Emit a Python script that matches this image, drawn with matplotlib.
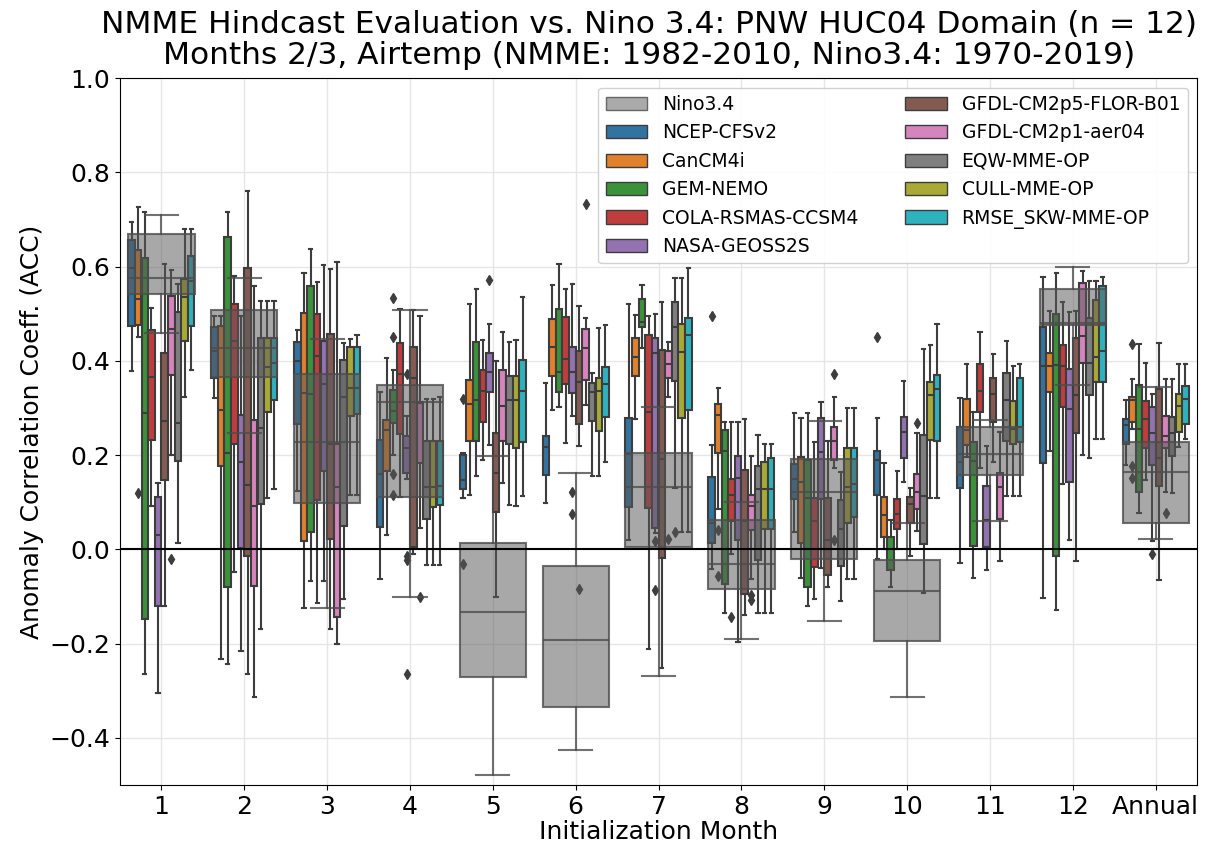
"""
NMME hindcast ACC vs Nino3.4, PNW HUC04 domain: grouped boxplots per init month
"""
import matplotlib
matplotlib.use("Agg")
import matplotlib.pyplot as plt
from matplotlib.patches import Patch

MONTHS = ["1", "2", "3", "4", "5", "6", "7", "8", "9", "10", "11", "12", "Annual"]

# each entry: (whislo, q1, med, q3, whishi) per month, last one = Annual
NINO = [
    (0.459, 0.543, 0.577, 0.669, 0.709), (0.248, 0.366, 0.428, 0.508, 0.577),
    (-0.125, 0.099, 0.227, 0.372, 0.446), (-0.100, 0.112, 0.312, 0.349, 0.509),
    (-0.479, -0.270, -0.132, 0.013, 0.199), (-0.426, -0.335, -0.192, -0.035, 0.163),
    (-0.268, 0.005, 0.132, 0.204, 0.302), (-0.191, -0.085, -0.030, 0.062, 0.101),
    (-0.151, -0.021, 0.121, 0.192, 0.273), (-0.314, -0.194, -0.088, -0.022, 0.056),
    (0.061, 0.158, 0.203, 0.259, 0.275), (0.349, 0.477, 0.481, 0.552, 0.600),
    (0.022, 0.056, 0.165, 0.227, 0.344),
]
NCEP = [
    (0.379, 0.474, 0.597, 0.656, 0.694), (0.322, 0.363, 0.421, 0.472, 0.496),
    (0.123, 0.266, 0.400, 0.441, 0.465), (-0.063, 0.048, 0.161, 0.232, 0.333),
    (0.110, 0.128, 0.148, 0.201, 0.204), (0.098, 0.157, 0.218, 0.241, 0.353),
    (0.019, 0.089, 0.202, 0.278, 0.521), (-0.042, 0.013, 0.057, 0.153, 0.221),
    (0.036, 0.107, 0.150, 0.182, 0.289), (-0.021, 0.116, 0.190, 0.208, 0.279),
    (-0.029, 0.131, 0.185, 0.259, 0.322), (-0.104, 0.184, 0.390, 0.473, 0.579),
    (0.180, 0.223, 0.264, 0.276, 0.317),
]
CANCM4I = [
    (0.451, 0.476, 0.531, 0.635, 0.726), (-0.232, 0.178, 0.296, 0.474, 0.496),
    (-0.125, 0.018, 0.332, 0.501, 0.586), (0.031, 0.167, 0.254, 0.275, 0.407),
    (0.116, 0.230, 0.309, 0.360, 0.521), (0.296, 0.367, 0.429, 0.489, 0.562),
    (0.276, 0.369, 0.408, 0.448, 0.498), (0.086, 0.204, 0.286, 0.308, 0.343),
    (-0.061, 0.013, 0.143, 0.197, 0.279), (0.000, 0.027, 0.073, 0.111, 0.184),
    (0.197, 0.222, 0.254, 0.319, 0.393), (0.208, 0.333, 0.390, 0.417, 0.506),
    (0.255, 0.270, 0.317, 0.324, 0.361),
]
GEM_NEMO = [
    (-0.265, -0.148, 0.290, 0.618, 0.717), (-0.244, -0.080, 0.204, 0.662, 0.717),
    (-0.067, 0.036, 0.330, 0.559, 0.638), (0.200, 0.269, 0.293, 0.339, 0.380),
    (0.156, 0.229, 0.317, 0.441, 0.552), (0.302, 0.333, 0.376, 0.511, 0.606),
    (0.427, 0.473, 0.482, 0.532, 0.561), (-0.136, -0.074, 0.208, 0.253, 0.270),
    (-0.121, -0.079, 0.110, 0.190, 0.289), (-0.079, -0.044, 0.000, 0.027, 0.063),
    (-0.061, 0.008, 0.188, 0.227, 0.291), (-0.128, -0.014, 0.392, 0.499, 0.586),
    (0.077, 0.121, 0.255, 0.349, 0.436),
]
COLA = [
    (0.092, 0.233, 0.366, 0.465, 0.512), (-0.047, 0.223, 0.443, 0.521, 0.580),
    (-0.114, 0.104, 0.411, 0.499, 0.567), (0.112, 0.244, 0.372, 0.439, 0.510),
    (0.189, 0.270, 0.337, 0.381, 0.445), (0.225, 0.351, 0.404, 0.494, 0.553),
    (-0.211, 0.088, 0.292, 0.455, 0.496), (-0.010, 0.060, 0.115, 0.149, 0.271),
    (-0.106, -0.037, 0.061, 0.109, 0.227), (0.000, 0.043, 0.075, 0.107, 0.167),
    (0.172, 0.291, 0.337, 0.394, 0.461), (0.139, 0.303, 0.390, 0.433, 0.526),
    (0.148, 0.215, 0.277, 0.314, 0.395),
]
NASA = [
    (-0.305, -0.121, 0.030, 0.112, 0.140), (-0.216, 0.002, 0.186, 0.286, 0.495),
    (-0.068, 0.167, 0.351, 0.443, 0.604), (0.150, 0.162, 0.216, 0.240, 0.283),
    (0.222, 0.335, 0.376, 0.417, 0.478), (0.284, 0.332, 0.376, 0.429, 0.563),
    (0.035, 0.045, 0.416, 0.449, 0.500), (-0.197, 0.019, 0.152, 0.198, 0.270),
    (-0.040, 0.107, 0.206, 0.279, 0.312), (0.144, 0.195, 0.250, 0.280, 0.358),
    (-0.044, 0.006, 0.063, 0.135, 0.220), (0.019, 0.144, 0.298, 0.383, 0.503),
    (0.017, 0.179, 0.248, 0.302, 0.330),
]
FLOR = [
    (-0.121, 0.148, 0.273, 0.417, 0.605), (-0.264, -0.015, 0.137, 0.597, 0.760),
    (-0.169, 0.022, 0.223, 0.457, 0.595), (-0.010, 0.004, 0.364, 0.429, 0.509),
    (-0.100, 0.079, 0.162, 0.248, 0.400), (0.220, 0.266, 0.355, 0.422, 0.516),
    (-0.252, -0.018, 0.192, 0.424, 0.524), (-0.140, -0.095, 0.060, 0.168, 0.276),
    (-0.079, -0.054, 0.020, 0.110, 0.229), (-0.015, 0.057, 0.097, 0.112, 0.130),
    (0.186, 0.271, 0.330, 0.363, 0.414), (-0.024, 0.248, 0.328, 0.448, 0.505),
    (-0.065, 0.135, 0.194, 0.340, 0.439),
]
AER04 = [
    (0.201, 0.370, 0.467, 0.537, 0.592), (-0.314, -0.077, 0.093, 0.274, 0.559),
    (-0.201, -0.144, 0.133, 0.223, 0.610), (0.045, 0.183, 0.310, 0.312, 0.496),
    (0.141, 0.231, 0.304, 0.380, 0.461), (0.307, 0.360, 0.427, 0.468, 0.491),
    (0.323, 0.363, 0.394, 0.422, 0.441), (-0.062, 0.042, 0.092, 0.115, 0.199),
    (0.172, 0.189, 0.229, 0.259, 0.324), (0.038, 0.086, 0.121, 0.160, 0.247),
    (-0.024, 0.064, 0.133, 0.162, 0.250), (0.201, 0.395, 0.452, 0.565, 0.591),
    (0.121, 0.215, 0.240, 0.283, 0.362),
]
EQW = [
    (0.013, 0.188, 0.269, 0.504, 0.563), (-0.169, 0.097, 0.258, 0.449, 0.527),
    (-0.106, 0.050, 0.324, 0.402, 0.439), (-0.033, 0.065, 0.133, 0.230, 0.319),
    (0.094, 0.224, 0.316, 0.367, 0.441), (0.155, 0.273, 0.334, 0.354, 0.375),
    (0.131, 0.357, 0.471, 0.526, 0.576), (-0.136, -0.022, 0.129, 0.178, 0.243),
    (-0.109, -0.035, 0.043, 0.104, 0.165), (-0.092, 0.011, 0.113, 0.243, 0.425),
    (0.114, 0.230, 0.317, 0.374, 0.443), (0.195, 0.328, 0.395, 0.492, 0.569),
    (0.120, 0.198, 0.248, 0.280, 0.361),
]
CULL = [
    (0.324, 0.443, 0.535, 0.574, 0.681), (0.110, 0.292, 0.387, 0.449, 0.527),
    (0.116, 0.283, 0.343, 0.429, 0.446), (-0.033, 0.089, 0.133, 0.230, 0.319),
    (0.092, 0.215, 0.316, 0.367, 0.445), (0.155, 0.252, 0.337, 0.364, 0.470),
    (0.037, 0.278, 0.418, 0.479, 0.576), (-0.136, 0.044, 0.129, 0.186, 0.223),
    (-0.063, 0.056, 0.132, 0.215, 0.300), (0.109, 0.232, 0.327, 0.356, 0.434),
    (0.114, 0.224, 0.255, 0.314, 0.390), (0.235, 0.356, 0.408, 0.530, 0.569),
    (0.218, 0.250, 0.305, 0.330, 0.393),
]
RMSE_SKW = [
    (0.381, 0.474, 0.570, 0.622, 0.681), (0.128, 0.317, 0.396, 0.449, 0.528),
    (0.116, 0.287, 0.343, 0.429, 0.455), (-0.033, 0.094, 0.135, 0.230, 0.324),
    (0.114, 0.228, 0.337, 0.402, 0.535), (0.186, 0.280, 0.351, 0.388, 0.477),
    (0.037, 0.296, 0.454, 0.492, 0.597), (-0.136, 0.044, 0.129, 0.193, 0.224),
    (-0.063, 0.068, 0.139, 0.216, 0.300), (0.109, 0.231, 0.340, 0.370, 0.479),
    (0.114, 0.227, 0.259, 0.363, 0.394), (0.234, 0.356, 0.420, 0.560, 0.579),
    (0.234, 0.266, 0.319, 0.346, 0.393),
]

# outliers: {month index: [values]}
FLIERS = {
    "NCEP-CFSv2": {4: [0.32, -0.03], 7: [0.496], 9: [0.45]},
    "CanCM4i": {0: [0.119], 7: [0.042, -0.056], 12: [0.436, 0.178, 0.152]},
    "GEM-NEMO": {3: [0.533, 0.451, 0.161, 0.116]},
    "COLA-RSMAS-CCSM4": {7: [-0.144]},
    "NASA-GEOSS2S": {3: [0.373, -0.014, -0.022, -0.265], 4: [0.572],
                     5: [0.121, 0.075], 6: [0.017, -0.087], 12: [-0.01]},
    "GFDL-CM2p5-FLOR-B01": {5: [-0.085]},
    "GFDL-CM2p1-aer04": {0: [-0.02], 3: [-0.1], 5: [0.734], 6: [0.023],
                         7: [-0.097, -0.108], 8: [0.373, 0.019], 9: [0.268],
                         12: [0.077]},
    "EQW-MME-OP": {6: [0.037]},
}

MODELS = ["NCEP-CFSv2", "CanCM4i", "GEM-NEMO", "COLA-RSMAS-CCSM4", "NASA-GEOSS2S",
          "GFDL-CM2p5-FLOR-B01", "GFDL-CM2p1-aer04", "EQW-MME-OP", "CULL-MME-OP",
          "RMSE_SKW-MME-OP"]
MODEL_DATA = [NCEP, CANCM4I, GEM_NEMO, COLA, NASA, FLOR, AER04, EQW, CULL, RMSE_SKW]
COLORS = ["#3274a1", "#e1812c", "#3a923a", "#c03d3e", "#9372b2",
          "#845b53", "#d684bd", "#7f7f7f", "#a9aa35", "#2eb2be"]
LINE = "#3d3d3d"
NINO_FACE = (0.35, 0.35, 0.35, 0.52)
NINO_LINE = (0.3, 0.3, 0.3, 0.8)


def to_stats(rows, fliers=None):
    fliers = fliers or {}
    return [dict(whislo=r[0], q1=r[1], med=r[2], q3=r[3], whishi=r[4],
                 fliers=fliers.get(i, [])) for i, r in enumerate(rows)]


fig = plt.figure(figsize=(12.24, 8.5), dpi=100)
ax = fig.add_axes([0.098, 0.0765, 0.88, 0.8315])

n = len(MODELS)
group_w = 0.8
w = group_w / n
for j, (name, rows, c) in enumerate(zip(MODELS, MODEL_DATA, COLORS)):
    pos = [i - group_w / 2 + w * (j + 0.5) for i in range(len(MONTHS))]
    ax.bxp(to_stats(rows, FLIERS.get(name)), positions=pos, widths=w * 0.98,
           patch_artist=True, manage_ticks=False,
           boxprops=dict(facecolor=c, edgecolor=LINE, linewidth=1.5),
           medianprops=dict(color=LINE, linewidth=1.5),
           whiskerprops=dict(color=LINE, linewidth=1.5),
           capprops=dict(color=LINE, linewidth=1.5),
           flierprops=dict(marker="d", markerfacecolor=LINE, markeredgecolor=LINE,
                           markersize=5))

# Nino3.4 as a wide translucent box over each group
ax.bxp(to_stats(NINO), positions=range(len(MONTHS)), widths=group_w,
       patch_artist=True, manage_ticks=False,
       boxprops=dict(facecolor=NINO_FACE, edgecolor=NINO_LINE, linewidth=1.5),
       medianprops=dict(color=NINO_LINE, linewidth=1.5),
       whiskerprops=dict(color=NINO_LINE, linewidth=1.5),
       capprops=dict(color=NINO_LINE, linewidth=1.5),
       zorder=3)

ax.axhline(0, color="k", linewidth=1.5, zorder=4)

ax.set_xlim(-0.5, len(MONTHS) - 0.5)
ax.set_ylim(-0.5, 1.0)
ax.set_xticks(range(len(MONTHS)))
ax.set_xticklabels(MONTHS)
ax.set_yticks([-0.4, -0.2, 0.0, 0.2, 0.4, 0.6, 0.8, 1.0])
ax.tick_params(labelsize=18)
ax.grid(True, color="#e6e6e6", linewidth=1)
ax.set_axisbelow(True)

ax.set_xlabel("Initialization Month", fontsize=18, labelpad=1)
ax.set_ylabel("Anomaly Correlation Coeff. (ACC)", fontsize=18)
ax.set_title("NMME Hindcast Evaluation vs. Nino 3.4: PNW HUC04 Domain (n = 12)\n"
             "Months 2/3, Airtemp (NMME: 1982-2010, Nino3.4: 1970-2019)",
             fontsize=22.5, pad=10, linespacing=1.08, x=0.491)

handles = [Patch(facecolor="#aaaaaa", edgecolor="#666666", label="Nino3.4")]
handles += [Patch(facecolor=c, edgecolor=LINE, label=m) for m, c in zip(MODELS, COLORS)]
ax.legend(handles=handles, ncol=2, loc="upper right", fontsize=13.5,
          handlelength=2.2, columnspacing=2.5, framealpha=0.9)

fig.savefig("out.png", dpi=100)
